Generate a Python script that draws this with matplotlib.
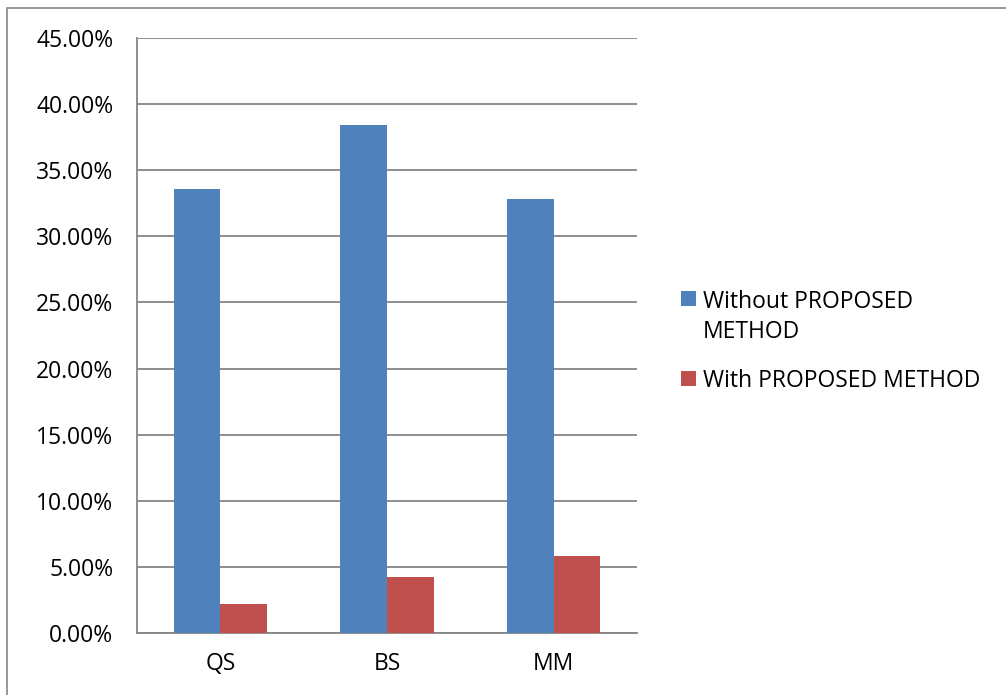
import matplotlib
matplotlib.use('Agg')
import matplotlib.pyplot as plt
from matplotlib.patches import Rectangle
from matplotlib.ticker import FuncFormatter
import numpy as np

categories = ['QS', 'BS', 'MM']
without_method = [33.6, 38.4, 32.8]
with_method = [2.2, 4.2, 5.8]
series_labels = ['Without PROPOSED\nMETHOD', 'With PROPOSED METHOD']
colors = ['#4f81bd', '#c0504d']

plt.rcParams['font.family'] = ['Open Sans', 'DejaVu Sans']
fs = 16.5

fig = plt.figure(figsize=(10.06, 6.95), dpi=100)
fig.patches.append(Rectangle((7 / 1006, -0.01), 1.02, 1 - 8 / 695 + 0.01,
                             transform=fig.transFigure, fill=False,
                             edgecolor='#868686', linewidth=1.2))

ax = fig.add_axes([137 / 1006, 1 - 633 / 695, 500 / 1006, 595 / 695])

x = np.arange(len(categories))
w = 0.28
b1 = ax.bar(x - w / 2, without_method, w, color=colors[0], label=series_labels[0], zorder=3)
b2 = ax.bar(x + w / 2, with_method, w, color=colors[1], label=series_labels[1], zorder=3)

ax.set_xlim(-0.5, 2.5)
ax.set_ylim(0, 45)
ax.set_yticks(np.arange(0, 46, 5))
ax.yaxis.set_major_formatter(FuncFormatter(lambda v, p: f'{v:.2f}%'))
ax.set_xticks(x)
ax.set_xticklabels(categories)
ax.tick_params(axis='both', length=0, labelsize=fs, colors='black')
ax.tick_params(axis='y', pad=17)
ax.tick_params(axis='x', pad=14)

ax.yaxis.grid(True, color='#868686', linewidth=1.3, zorder=0)
ax.set_axisbelow(True)
for s in ['top', 'right']:
    ax.spines[s].set_visible(False)
for s in ['left', 'bottom']:
    ax.spines[s].set_color('#868686')
    ax.spines[s].set_linewidth(1.3)

leg = fig.legend(handles=[b1, b2], labels=series_labels, loc='upper left',
                 bbox_to_anchor=(672 / 1006, 1 - 281 / 695), frameon=False,
                 fontsize=fs, handlelength=0.65, handleheight=0.65,
                 handletextpad=0.3, labelspacing=1.05, borderaxespad=0)
for t in leg.get_texts():
    t.set_linespacing(1.35)
# square sits level with the first line of the wrapped label
h0 = leg.legend_handles[0]
h0.set_y(h0.get_y() + 14)

fig.savefig('out.png', dpi=100)
